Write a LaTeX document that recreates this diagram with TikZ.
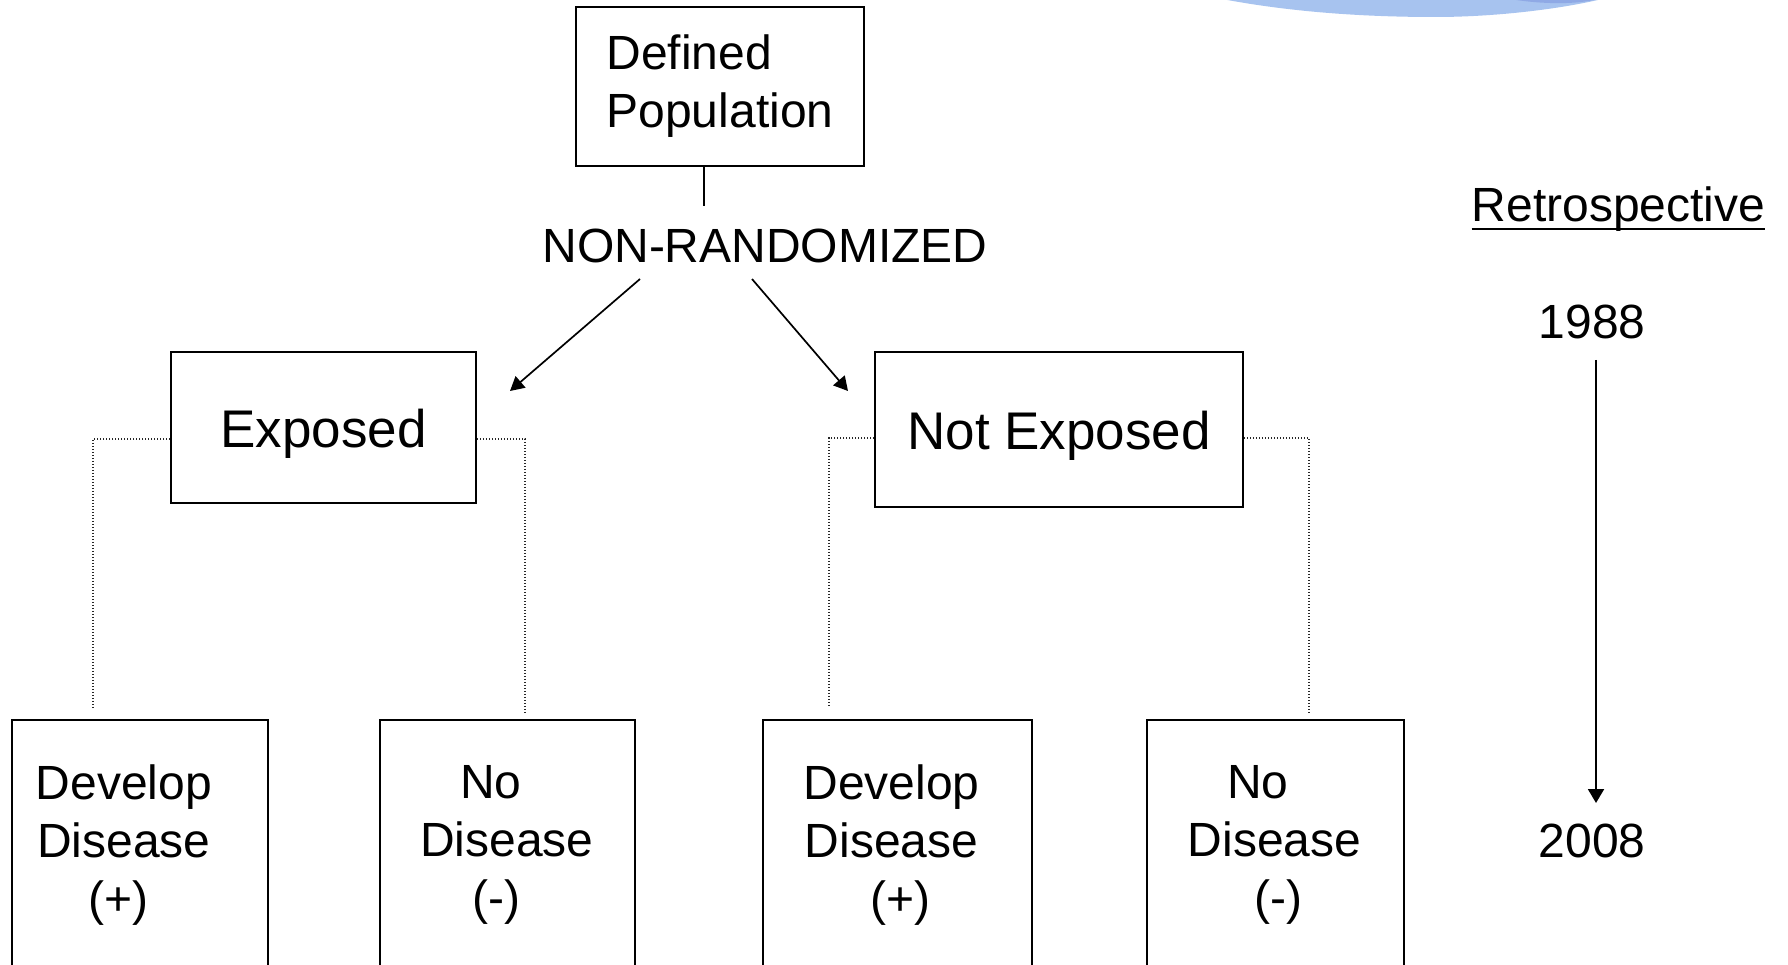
\documentclass[tikz,border=0pt]{standalone}
\usepackage{fontspec}
\setmainfont{Liberation Sans}
\usetikzlibrary{arrows.meta}
\definecolor{blobblue}{HTML}{A7C3EF}
\definecolor{blobdark}{HTML}{8FA9E5}
\begin{document}
\begin{tikzpicture}[x=1pt,y=-1pt,
  boxnode/.style={draw=black, line width=1.8pt, rectangle, inner sep=0pt},
  txt/.style={font=\fontsize{48}{58}\selectfont},
  bigtxt/.style={font=\fontsize{53}{62}\selectfont},
  conn/.style={line width=1.7pt, -{Triangle[length=14pt,width=15pt]}},
  dotline/.style={line width=1.4pt, dash pattern=on 1.4pt off 1.6pt, black!85},
  outcome/.style={boxnode, anchor=north, minimum height=330pt},
  outtxt/.style={txt, anchor=north, inner sep=0pt, align=center}
]
\useasboundingbox (0,0) rectangle (1788,965);
\clip (0,0) rectangle (1788,965);

% blue shape in the top right corner
\fill[blobblue] (1222,-1) .. controls (1280,10) and (1350,17) .. (1435,17)
  .. controls (1500,17) and (1565,8) .. (1602,-1) -- cycle;
\fill[blobdark] (1510,-1) .. controls (1545,5) and (1580,4) .. (1598,-1) -- cycle;

% population and sampling
\node[boxnode, font=\fontsize{48}{58}\selectfont, align=left,
      minimum width=288pt, minimum height=159pt] (dp) at (720,86.5) {Defined\\Population};
\node[txt, anchor=base, inner sep=0pt] (nr) at (765,263) {NON-RANDOMIZED};
\coordinate (nrtop) at (704,206);
\draw[line width=2.5pt] (dp.south -| nrtop) -- (nrtop);

% exposure groups
\node[boxnode, bigtxt, text height=40pt, text depth=0pt,
      minimum width=305pt, minimum height=151pt] (exp) at (323.5,427.5) {Exposed};
\node[boxnode, bigtxt, text height=40pt, text depth=0pt,
      minimum width=368pt, minimum height=155pt] (nexp) at (1059,429.5) {Not Exposed};

\coordinate (aLs) at (640,279);
\coordinate (aLe) at (510,391);
\coordinate (aRs) at (752,279);
\coordinate (aRe) at (848,391);
\draw[conn] (aLs) -- (aLe);
\draw[conn] (aRs) -- (aRe);

% outcome boxes
\node[outcome, minimum width=256pt] (dd1) at (140,719) {};
\node[outcome, minimum width=255pt] (dd2) at (507.5,719) {};
\node[outcome, minimum width=269pt] (dd3) at (897.5,719) {};
\node[outcome, minimum width=257pt] (dd4) at (1275.5,719) {};

\node[outtxt] (t1) at (124,765) {Develop\\Disease\\(+)\hspace*{11pt}};
\node[outtxt] (t2) at (507,765) {No\hspace*{32pt}\\Disease\\(-)\hspace*{21pt}};
\node[outtxt] (t3) at (891.5,765) {Develop\\Disease\\\hspace*{18pt}(+)};
\node[outtxt] (t4) at (1274.5,765) {No\hspace*{33pt}\\Disease\\\hspace*{7pt}(-)};

% dotted links from groups to outcomes
\coordinate (e1) at (93,707);
\coordinate (e2) at (525,712);
\coordinate (e3) at (829,707);
\coordinate (e4) at (1309,712);
\draw[dotline] ([yshift=-11.5pt]exp.west) -| (e1);
\draw[dotline] ([yshift=-11.5pt]exp.east) -| (e2);
\draw[dotline] ([yshift=-8.5pt]nexp.west) -| (e3);
\draw[dotline] ([yshift=-8.5pt]nexp.east) -| (e4);

% time line
\node[txt, anchor=base, inner sep=0pt] (retro) at (1618.5,222) {Retrospective};
\draw[line width=2.5pt] ([yshift=-7pt]retro.base west) -- ([yshift=-7pt]retro.base east);
\node[txt, anchor=base, inner sep=0pt] (yA) at (1592,339) {1988};
\node[txt, anchor=base, inner sep=0pt] (yB) at (1592,857) {2008};
\coordinate (t0) at (1596,360);
\coordinate (t1e) at (1596,803);
\draw[line width=2pt, -{Triangle[length=14pt,width=16pt]}] (t0) -- (t1e);
\end{tikzpicture}
\end{document}
